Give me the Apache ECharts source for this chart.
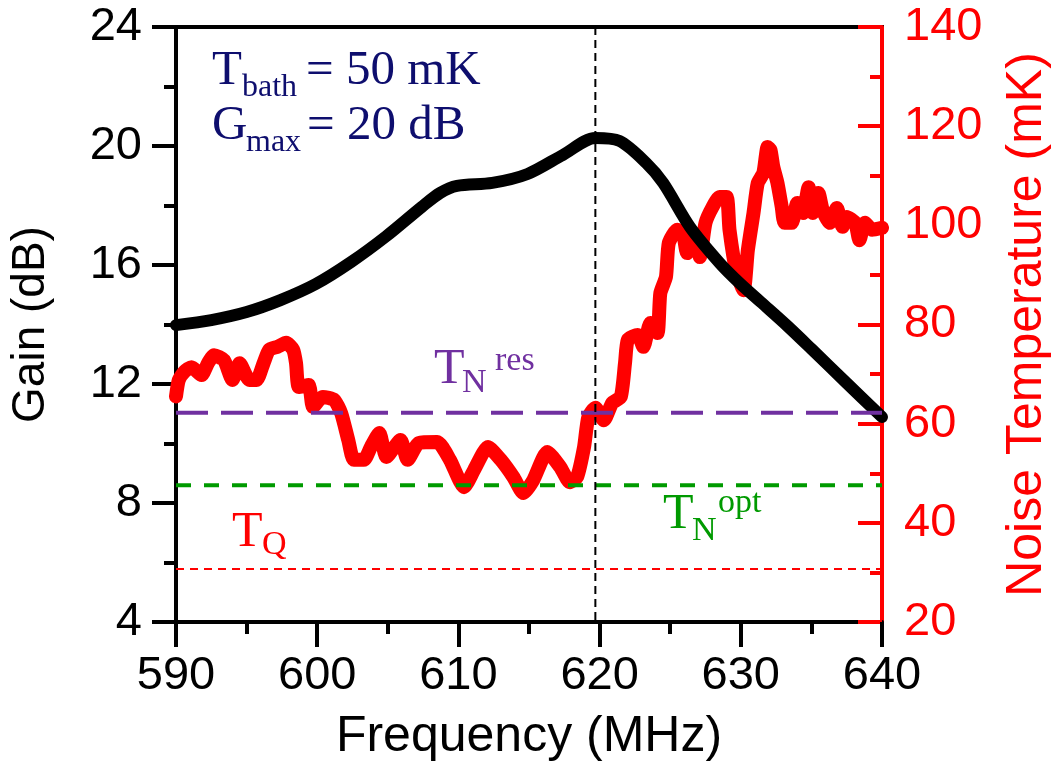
<!DOCTYPE html>
<html>
<head>
<meta charset="utf-8">
<script src="https://cdn.jsdelivr.net/npm/echarts@6/dist/echarts.min.js"></script>
<style>
html,body{margin:0;padding:0;background:#fff;}
#chart{width:1054px;height:781px;}
</style>
</head>
<body>
<div id="chart"></div>
<script>
// Gain curve (MHz, dB)
const gainFreq = [590, 592.5, 595, 597.4, 599.9, 602.4, 604.9, 607.4, 608.7, 609.9, 612.4, 614.9, 617.4, 619.7, 621.4, 623.3, 624.5, 626.4, 628.5, 629.9, 631.4, 633.3, 635.0, 637.5, 640];
const gainVal  = [13.98, 14.15, 14.42, 14.82, 15.36, 16.10, 16.97, 17.95, 18.42, 18.66, 18.76, 19.06, 19.70, 20.27, 20.17, 19.43, 18.76, 17.28, 16.07, 15.4, 14.76, 13.95, 13.18, 12.03, 10.89];

// Noise temperature curve (MHz, mK)
const noiseFreq = [590.0, 590.2, 590.6, 591.1, 591.8, 592.3, 592.7, 593.4, 594.0, 594.5, 595.2, 595.7, 596.2, 596.6, 597.2, 597.8, 598.3, 598.5, 598.7, 599.4, 599.7, 600.4, 601.2, 601.7, 602.2, 602.6, 603.3, 603.8, 604.4, 604.9, 605.9, 606.4, 607.2, 608.5, 609.4, 610.4, 611.1, 612.1, 613.0, 613.9, 614.6, 615.3, 616.3, 617.2, 617.9, 618.4, 618.9, 619.2, 619.7, 620.3, 620.9, 621.5, 621.8, 622.0, 622.7, 623.1, 623.6, 624.1, 624.3, 624.7, 624.9, 625.5, 625.9, 626.2, 626.8, 627.1, 627.5, 628.0, 628.5, 629.0, 629.2, 629.7, 630.2, 630.5, 630.9, 631.2, 631.6, 631.9, 632.1, 632.3, 632.6, 632.9, 633.1, 633.6, 634.0, 634.4, 634.8, 635.1, 635.5, 635.8, 636.3, 636.8, 637.2, 637.5, 638.1, 638.4, 638.8, 639.3, 640.0];
const noiseVal  = [65.5, 68.8, 70.5, 71.4, 69.8, 72.4, 73.8, 72.8, 68.8, 72.2, 68.8, 68.8, 72.2, 74.9, 75.5, 76.3, 74.9, 72.2, 67.4, 67.8, 63.4, 65.4, 64.8, 62.1, 56.7, 52.7, 52.7, 55.3, 58.1, 53.3, 56.7, 52.7, 56.1, 56.3, 52.7, 47.2, 50.6, 55.3, 52.7, 49.2, 46.0, 48.6, 54.3, 51.3, 48.2, 49.2, 55.3, 61.3, 63.2, 60.7, 64.2, 65.4, 72.2, 76.9, 77.9, 75.5, 80.3, 78.3, 86.3, 89.6, 96.4, 99.1, 98.5, 94.4, 97.0, 93.6, 100.5, 103.7, 105.7, 105.7, 99.1, 90.4, 86.9, 95.0, 102.5, 108.5, 110.6, 115.8, 115.2, 111.8, 108.5, 103.7, 100.5, 100.5, 104.5, 102.5, 107.7, 102.5, 106.5, 103.1, 100.5, 103.5, 99.7, 101.7, 100.5, 97.0, 100.5, 99.1, 99.5];

// Reference levels (mK) and marker frequency (MHz)
const tnRes = 62.2;
const tnOpt = 47.6;
const tQ = 30.7;
const markerFreq = 619.7;
const freqRange = [590, 640];

// Axis ticks
const xTicks = {min: 590, max: 640, interval: 10};
const gainTicks = {min: 4, max: 24, interval: 4};
const noiseTicks = {min: 20, max: 140, interval: 20};

const sans = '"Liberation Sans", Arial, sans-serif';
const serif = '"Liberation Serif", "Times New Roman", serif';

const zip = (a, b) => a.map((v, i) => [v, b[i]]);

const chart = echarts.init(document.getElementById('chart'), null, {renderer: 'canvas'});

function txt(x, base, s, size, color) {
  return {
    type: 'text', left: x, top: base - 0.84 * size, z: 100,
    style: {text: s, font: size + 'px ' + serif, fill: color}
  };
}
const navy = '#0e0e6e';
const purple = '#7030a0';
const green = '#009a00';
const red = '#ff0000';

const option = {
  animation: false,
  backgroundColor: '#fff',
  grid: {left: 176, right: 172, top: 27, bottom: 159, show: true, borderColor: '#000', borderWidth: 4,
         containLabel: false, outerBoundsMode: 'none'},
  xAxis: {
    type: 'value', min: xTicks.min, max: xTicks.max, interval: xTicks.interval,
    name: 'Frequency (MHz)', nameLocation: 'middle', nameGap: 90,
    nameTextStyle: {fontFamily: sans, fontSize: 50, color: '#000'},
    axisLine: {show: true, onZero: false, lineStyle: {color: '#000', width: 4}},
    axisTick: {show: true, inside: false, length: 25, lineStyle: {width: 4, color: '#000'}},
    minorTick: {show: true, splitNumber: 2, length: 12, lineStyle: {width: 4, color: '#000'}},
    axisLabel: {fontFamily: sans, fontSize: 47, color: '#000', margin: 31},
    splitLine: {show: false}
  },
  yAxis: [{
    type: 'value', min: gainTicks.min, max: gainTicks.max, interval: gainTicks.interval,
    name: 'Gain (dB)', nameLocation: 'middle', nameGap: 122, nameRotate: 90,
    nameTextStyle: {fontFamily: sans, fontSize: 46, color: '#000'},
    axisLine: {show: true, onZero: false, lineStyle: {color: '#000', width: 4}},
    axisTick: {show: true, inside: false, length: 24, lineStyle: {width: 4, color: '#000'}},
    minorTick: {show: true, splitNumber: 2, length: 12, lineStyle: {width: 4, color: '#000'}},
    axisLabel: {fontFamily: sans, fontSize: 47, color: '#000', margin: 34},
    splitLine: {show: false}
  }, {
    type: 'value', position: 'right', min: noiseTicks.min, max: noiseTicks.max, interval: noiseTicks.interval,
    name: 'Noise Temperature (mK)', nameLocation: 'middle', nameGap: 120, nameRotate: 90,
    nameTextStyle: {fontFamily: sans, fontSize: 50, color: red},
    axisLine: {show: true, onZero: false, lineStyle: {color: red, width: 4}},
    axisTick: {show: true, inside: true, length: 24, lineStyle: {width: 4, color: red}},
    minorTick: {show: true, splitNumber: 2, length: 12, lineStyle: {width: 4, color: red}},
    axisLabel: {fontFamily: sans, fontSize: 47, color: red, margin: 22},
    splitLine: {show: false}
  }],
  series: [{
    name: 'Noise', type: 'line', yAxisIndex: 1, z: 2,
    data: zip(noiseFreq, noiseVal), showSymbol: false, smooth: 0.2,
    lineStyle: {color: red, width: 14, cap: 'round', join: 'round'}
  }, {
    name: 'Gain', type: 'line', yAxisIndex: 0, z: 3,
    data: zip(gainFreq, gainVal), showSymbol: false, smooth: 0.3,
    lineStyle: {color: '#000', width: 12, cap: 'round', join: 'round'}
  }, {
    name: 'TNres', type: 'line', yAxisIndex: 1, z: 4, showSymbol: false,
    data: [[freqRange[0], tnRes], [freqRange[1], tnRes]],
    lineStyle: {color: purple, width: 4, type: [32, 13]}
  }, {
    name: 'TNopt', type: 'line', yAxisIndex: 1, z: 4, showSymbol: false,
    data: [[freqRange[0], tnOpt], [freqRange[1], tnOpt]],
    lineStyle: {color: green, width: 4, type: [15, 13]}
  }, {
    name: 'TQ', type: 'line', yAxisIndex: 1, z: 4, showSymbol: false,
    data: [[freqRange[0], tQ], [freqRange[1], tQ]],
    lineStyle: {color: red, width: 2, type: [8, 6]}
  }, {
    name: 'Marker', type: 'line', yAxisIndex: 0, z: 4, showSymbol: false,
    data: [[markerFreq, gainTicks.max], [markerFreq, gainTicks.min]],
    lineStyle: {color: '#000', width: 2, type: [8, 5]}
  }],
  graphic: [
    txt(212, 88, 'T', 49, navy),
    txt(242, 98, 'bath', 32, navy),
    txt(306, 88, '= 50 mK', 49, navy),
    txt(212, 143, 'G', 49, navy),
    txt(246, 153, 'max', 32, navy),
    txt(307, 143, '= 20 dB', 49, navy),
    txt(434, 387, 'T', 50, purple),
    txt(462, 395, 'N', 34, purple),
    txt(495, 373, 'res', 34, purple),
    txt(663, 532, 'T', 50, green),
    txt(692, 543, 'N', 34, green),
    txt(718, 515, 'opt', 34, green),
    txt(232, 550, 'T', 50, red),
    txt(262, 557, 'Q', 34, red)
  ]
};
chart.setOption(option);
</script>
</body>
</html>
